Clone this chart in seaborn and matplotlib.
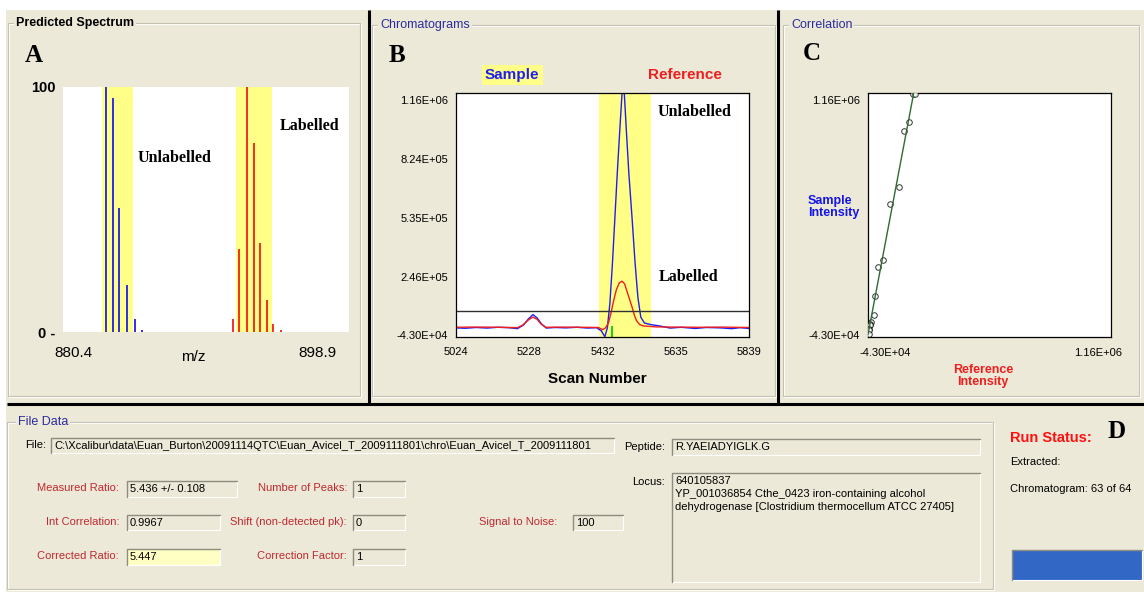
import numpy as np
import pandas as pd
import matplotlib
matplotlib.use("Agg")
import matplotlib.pyplot as plt
import seaborn as sns
from matplotlib import font_manager
from matplotlib.patches import Rectangle
from matplotlib.transforms import ScaledTranslation

# ---- Panel A: predicted isotope envelopes (m/z, relative intensity %)
unlab_mz = [882.9, 883.4, 883.9, 884.5, 885.1, 885.6]
unlab_int = [100, 95.5, 50.5, 19.0, 5.5, 1.0]
lab_mz = [892.5, 893.0, 893.6, 894.1, 894.6, 895.1, 895.6, 896.2]
lab_int = [5.5, 34.0, 100, 77.0, 36.4, 13.0, 3.4, 0.7]
unlab_window = [882.6, 884.95]
lab_window = [892.75, 895.5]
mz_ticks = [880.4, 898.9]
pct_ticks = [0, 100]
pct_labels = ["0 -", "100"]

# ---- Panel B: extracted chromatograms
sample_scan = [5024, 5050, 5080, 5110, 5140, 5170, 5195, 5212, 5225, 5238,
               5250, 5262, 5275, 5300, 5330, 5360, 5390, 5415, 5428, 5438,
               5445, 5452, 5459, 5466, 5473, 5480, 5486, 5492, 5498, 5505,
               5514, 5522, 5530, 5538, 5548, 5565, 5590, 5620, 5650, 5690,
               5720, 5760, 5790, 5815, 5839]
sample_int = [-5000, -7000, -3000, -6000, -2000, -4000, -9000, 10000, 40000, 63000,
              45000, 15000, -6000, -3000, -5000, -2000, -6000, -4000, -20000, -50000,
              -5000, 120000, 320000, 560000, 800000, 1020000, 1200000, 1200000, 1000000, 780000,
              550000, 330000, 150000, 50000, 20000, 12000, 5000, -6000, -2000, -8000,
              -3000, -5000, -9000, -4000, -8000]
ref_scan = [5024, 5060, 5100, 5150, 5195, 5210, 5225, 5238, 5250, 5262,
            5275, 5320, 5380, 5420, 5432, 5440, 5448, 5455, 5462, 5470,
            5478, 5486, 5493, 5500, 5507, 5514, 5520, 5526, 5535, 5545,
            5580, 5640, 5700, 5760, 5839]
ref_int = [-2000, -1000, -1000, -2000, -4000, 10000, 35000, 50000, 38000, 12000,
           -2000, -1000, -2000, -3000, -14000, -5000, 20000, 70000, 130000, 190000,
           225000, 234000, 220000, 180000, 140000, 100000, 60000, 32000, 12000, 5000,
           0, -1000, -2000, -1000, -3000]
chrom_ticks = [5024, 5228, 5432, 5635, 5839]
chrom_ylabels = ["-4.30E+04", "2.46E+05", "5.35E+05", "8.24E+05", "1.16E+06"]
peak_window = [5421, 5566]
noise_level = 81000
apex_mark = [5457, 6000]

# ---- Panel C: sample vs reference intensity per scan
ref_intensity = [188000, 197000, 162700, 137200, 111600, 69100, 31700, 6200,
                 -7600, -16400, -29600, -33200, -36800, -40000, -41900, -41900]
sample_intensity = [1194000, 1194000, 1049000, 1003000, 716000, 631000, 341000, 304000,
                    157000, 59000, 25000, 17000, 8000, -8700, -17400, -34300]
corr_ticks = [-43000, 1160000]
corr_labels = ["-4.30E+04", "1.16E+06"]

# ---- File data panel
file_path = r"C:\Xcalibur\data\Euan_Burton\20091114QTC\Euan_Avicel_T_2009111801\chro\Euan_Avicel_T_2009111801"
peptide = "R.YAEIADYIGLK.G"
locus = ("640105837\nYP_001036854 Cthe_0423 iron-containing alcohol\n"
         "dehydrogenase [Clostridium thermocellum ATCC 27405]")
measured_ratio = "5.436 +/- 0.108"
int_correlation = "0.9967"
corrected_ratio = "5.447"
n_peaks = "1"
shift = "0"
correction_factor = "1"
signal_to_noise = "100"
run_lines = ["Extracted:", "Chromatogram: 63 of 64"]

W, H = 1144, 592
BEIGE = "#ECE9D8"
YELLOW = "#FFFF88"
BLUE = "#1E1EF0"
RED = "#F01E1E"
TITLE_BLUE = "#2B2B9E"
LABEL_RED = "#C02830"
SERIF = "Liberation Serif"

sns.set_theme(style="white", rc={"text.color": "black", "xtick.color": "black",
                                 "ytick.color": "black", "axes.labelcolor": "black"})
plt.rcParams["font.family"] = ["Liberation Sans", "DejaVu Sans"]
installed = {f.name for f in font_manager.fontManager.ttflist}
NARROW = "Liberation Sans Narrow" if "Liberation Sans Narrow" in installed else "Liberation Sans"


def px_rect(x0, y0, x1, y1):
    return [x0 / W, 1 - y1 / H, (x1 - x0) / W, (y1 - y0) / H]


fig = plt.figure(figsize=(W / 100, H / 100), dpi=100, facecolor=BEIGE)
bg = fig.add_axes([0, 0, 1, 1])
bg.set_xlim(0, W)
bg.set_ylim(H, 0)
bg.axis("off")

# window chrome
bg.add_patch(Rectangle((0, 0), W, 10, fc="white", ec="none"))
bg.add_patch(Rectangle((0, 0), 6, H, fc="white", ec="none"))


def groupbox(x0, y0, x1, y1, title, color, dx=8, weight="normal"):
    bg.add_patch(Rectangle((x0 + 1, y0 + 1), x1 - x0, y1 - y0, fill=False, ec="white", lw=0.8))
    bg.add_patch(Rectangle((x0, y0), x1 - x0, y1 - y0, fill=False, ec="#C4C2B2", lw=0.8))
    bg.text(x0 + dx, y0, title, color=color, fontsize=9, fontweight=weight, ha="left",
            va="center", bbox=dict(boxstyle="square,pad=0.15", fc=BEIGE, ec="none"))


def textbox(x0, y0, x1, y1, text, fill=BEIGE, top=False):
    bg.add_patch(Rectangle((x0, y0), x1 - x0, y1 - y0, fc=fill, ec="none"))
    bg.plot([x0, x0, x1], [y1, y0, y0], color="#8E8C80", lw=1.0)
    bg.plot([x0 + 1, x1, x1], [y1, y1, y0 + 1], color="white", lw=0.8)
    if top:
        bg.text(x0 + 3, y0 + 3, text, fontsize=8, ha="left", va="top", linespacing=1.4)
    else:
        bg.text(x0 + 3, (y0 + y1) / 2 + 0.5, text, fontsize=8, ha="left", va="center")


groupbox(8, 23, 360, 396, "Predicted Spectrum", "black", weight="bold")
groupbox(372, 25, 775, 396, "Chromatograms", TITLE_BLUE)
groupbox(783, 25, 1139, 396, "Correlation", TITLE_BLUE)
groupbox(7, 422, 993, 589, "File Data", TITLE_BLUE, dx=11)

for x in (369, 778):
    bg.plot([x, x], [10, 405], color="black", lw=2.2, solid_capstyle="butt")
bg.plot([7, W], [404, 404], color="black", lw=2.2, solid_capstyle="butt")

for letter, x, y in (("A", 25, 55), ("B", 389, 55), ("C", 803, 53), ("D", 1108, 432)):
    bg.text(x, y, letter, fontfamily=SERIF, fontweight="bold", fontsize=18, ha="left", va="center")

# ---- Panel A
axa = fig.add_axes(px_rect(63, 87, 349, 332))
axa.set_facecolor("white")
for sp in axa.spines.values():
    sp.set_visible(False)
axa.axvspan(*unlab_window, color=YELLOW, lw=0)
axa.axvspan(*lab_window, color=YELLOW, lw=0)
axa.vlines(unlab_mz, 0, unlab_int, color=BLUE, lw=1.3)
axa.vlines(lab_mz, 0, lab_int, color=RED, lw=1.3)
axa.set_xlim(879.64, 901.33)
axa.set_ylim(0, 100)
axa.set_xticks(mz_ticks, [f"{v:.1f}" for v in mz_ticks])
axa.set_yticks(pct_ticks, pct_labels)
axa.tick_params(length=0)
axa.tick_params(axis="x", pad=10, labelsize=11)
axa.tick_params(axis="y", pad=5.5, labelsize=10.5)
for lab in axa.get_xticklabels():
    lab.set_fontfamily(NARROW)
for lab in axa.get_yticklabels():
    lab.set_fontfamily(NARROW)
    lab.set_fontweight("bold")
axa.set_xlabel("m/z", fontsize=11, fontfamily=NARROW)
axa.xaxis.set_label_coords(0.455, -0.075)
axa.text(0.262, 0.71, "Unlabelled", transform=axa.transAxes, fontfamily=SERIF,
         fontweight="bold", fontsize=11.5, va="center")
axa.text(0.759, 0.841, "Labelled", transform=axa.transAxes, fontfamily=SERIF,
         fontweight="bold", fontsize=11.5, va="center")

# ---- Panel B
chrom = pd.concat([
    pd.DataFrame({"scan": sample_scan, "intensity": sample_int, "trace": "Sample"}),
    pd.DataFrame({"scan": ref_scan, "intensity": ref_int, "trace": "Reference"}),
], ignore_index=True)
axb = fig.add_axes(px_rect(456, 93, 749, 337))
axb.set_facecolor("white")
axb.axvspan(*peak_window, color=YELLOW, lw=0, zorder=0)
sns.lineplot(data=chrom, x="scan", y="intensity", hue="trace",
             palette={"Sample": BLUE, "Reference": RED}, estimator=None,
             legend=False, lw=1, ax=axb)
axb.axhline(noise_level, color="#303030", lw=1)
axb.set_xlim(5024, 5839)
axb.set_ylim(-51700, 1197000)
axb.vlines(apex_mark[0], -51700, apex_mark[1], color="#22CC22", lw=1.5)
axb.set_xticks(chrom_ticks, [str(t) for t in chrom_ticks])
axb.set_yticks(np.linspace(-43000, 1160000, 5), chrom_ylabels)
axb.tick_params(length=0, labelsize=8)
axb.tick_params(axis="x", pad=7)
axb.tick_params(axis="y", pad=5.5)
axb.set_ylabel("")
axb.set_xlabel("Scan Number", fontsize=11, fontweight="bold")
axb.xaxis.set_label_coords(0.481, -0.145)
for sp in axb.spines.values():
    sp.set_color("black")
    sp.set_linewidth(0.9)
axb.text(0.689, 0.921, "Unlabelled", transform=axb.transAxes, fontfamily=SERIF,
         fontweight="bold", fontsize=11.5, va="center")
axb.text(0.692, 0.245, "Labelled", transform=axb.transAxes, fontfamily=SERIF,
         fontweight="bold", fontsize=11.5, va="center")
bg.text(485, 75, "Sample", color=BLUE, fontsize=11, fontweight="bold", ha="left", va="center",
        bbox=dict(boxstyle="square,pad=0.2", fc=YELLOW, ec="none"))
bg.text(648, 75, "Reference", color=RED, fontsize=11, fontweight="bold", ha="left", va="center")

# ---- Panel C
axc = fig.add_axes(px_rect(868, 93, 1111, 337))
axc.set_facecolor("white")
axc.set_xlim(-45000, 1200000)
sns.regplot(x=ref_intensity, y=sample_intensity, ax=axc, ci=None, truncate=False,
            scatter_kws=dict(s=16, color="black", facecolors="white", edgecolors="black",
                             linewidths=0.7, zorder=3),
            line_kws=dict(color="#2E6B2E", lw=1, zorder=4))
axc.set_xlim(-45000, 1200000)
axc.set_ylim(-51700, 1197000)
axc.set_xticks(corr_ticks, corr_labels)
axc.set_yticks(corr_ticks, corr_labels)
axc.tick_params(length=0, labelsize=8)
axc.tick_params(axis="x", pad=8)
axc.tick_params(axis="y", pad=5.5)
for lab, dx in zip(axc.get_xticklabels(), (17, -5)):
    lab.set_transform(lab.get_transform() + ScaledTranslation(dx / 100, 0, fig.dpi_scale_trans))
for sp in axc.spines.values():
    sp.set_color("black")
    sp.set_linewidth(0.9)
bg.text(808, 207, "Sample\nIntensity", color="#1515E8", fontsize=9, fontweight="bold",
        ha="left", va="center", linespacing=1.05)
bg.text(983, 376, "Reference\nIntensity", color=RED, fontsize=9, fontweight="bold",
        ha="center", va="center", linespacing=1.05)

# ---- File data panel
bg.text(25, 445, "File:", fontsize=8, ha="left", va="center")
textbox(51, 438, 614, 453, file_path)
bg.text(665, 447, "Peptide:", fontsize=8, ha="right", va="center")
textbox(672, 439, 980, 455, peptide)
bg.text(665, 482, "Locus:", fontsize=8, ha="right", va="center")
textbox(672, 473, 980, 582, locus, top=True)

fields = [
    ("Measured Ratio:", 119, 488, (127, 481, 237, 497), measured_ratio, BEIGE),
    ("Int Correlation:", 119, 522, (127, 515, 220, 530), int_correlation, BEIGE),
    ("Corrected Ratio:", 119, 556, (127, 549, 220, 565), corrected_ratio, "#FFFFC4"),
    ("Number of Peaks:", 347, 488, (353, 481, 405, 497), n_peaks, BEIGE),
    ("Shift (non-detected pk):", 347, 522, (353, 515, 405, 530), shift, BEIGE),
    ("Correction Factor:", 347, 556, (353, 549, 405, 565), correction_factor, BEIGE),
    ("Signal to Noise:", 557, 522, (573, 515, 623, 530), signal_to_noise, BEIGE),
]
for label, lx, ly, box, value, fill in fields:
    bg.text(lx, ly, label, color=LABEL_RED, fontsize=8, ha="right", va="center")
    textbox(*box, value, fill=fill)

bg.text(1010, 438, "Run Status:", color="#FF1010", fontsize=10.5, fontweight="bold",
        ha="left", va="center")
bg.text(1010, 462, run_lines[0], fontsize=8, ha="left", va="center")
bg.text(1010, 489, run_lines[1], fontsize=8, ha="left", va="center")
textbox(1012, 550, 1142, 580, "", fill="#3367C6")

fig.savefig("out.png", dpi=100, facecolor=BEIGE)
